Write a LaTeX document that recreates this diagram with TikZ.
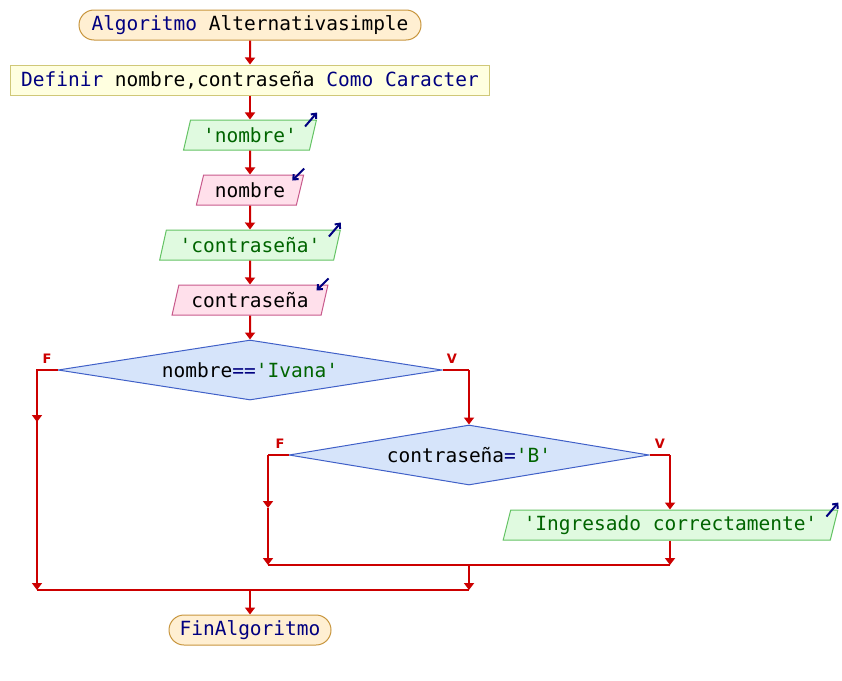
\documentclass[tikz,border=0pt]{standalone}
\usepackage{fontspec}
\setmonofont{DejaVu Sans Mono}
\setsansfont{DejaVu Sans}
\usetikzlibrary{shapes.geometric,shapes.misc,arrows.meta,calc}
\definecolor{kw}{RGB}{0,0,128}
\definecolor{strc}{RGB}{0,100,0}
\definecolor{flow}{RGB}{204,0,0}
\definecolor{termfill}{RGB}{255,239,210}
\definecolor{termdraw}{RGB}{200,150,62}
\definecolor{deffill}{RGB}{255,255,224}
\definecolor{defdraw}{RGB}{208,200,120}
\definecolor{outfill}{RGB}{224,250,224}
\definecolor{outdraw}{RGB}{100,195,100}
\definecolor{infill}{RGB}{255,224,235}
\definecolor{indraw}{RGB}{200,90,140}
\definecolor{decfill}{RGB}{214,228,250}
\definecolor{decdraw}{RGB}{64,96,200}
\tikzset{
  base/.style={font=\ttfamily\fontsize{19.5}{22}\selectfont, inner sep=0pt, minimum height=30pt, line width=1pt},
  term/.style={base, rounded rectangle, fill=termfill, draw=termdraw},
  defbox/.style={base, rectangle, fill=deffill, draw=defdraw},
  para/.style={base, trapezium, trapezium left angle=70, trapezium right angle=110, trapezium stretches=true},
  outbox/.style={para, fill=outfill, draw=outdraw},
  inbox/.style={para, fill=infill, draw=indraw},
  decbox/.style={base, diamond, aspect=6.4, fill=decfill, draw=decdraw, minimum height=60pt},
  conn/.style={draw=flow, line width=2pt, -{Triangle[width=10pt,length=7pt]}},
  plain/.style={draw=flow, line width=2pt},
  ioarrow/.style={draw=kw, line width=2pt, -{Straight Barb[length=4pt,width=7pt]}},
  tflab/.style={font=\sffamily\bfseries\fontsize{13}{14}\selectfont, text=flow, inner sep=0pt}
}
\begin{document}
\begin{tikzpicture}[x=1pt,y=-1pt]
\useasboundingbox (0,0) rectangle (842,680);
\fill[white] (0,0) rectangle (842,680);

\node[term, minimum width=342pt] (start) at (250,25) {\textcolor{kw}{Algoritmo} Alternativasimple};
\node[defbox, minimum width=479pt] (def) at (250,80) {\textcolor{kw}{Definir} nombre,contraseña \textcolor{kw}{Como} \textcolor{kw}{Caracter}};
\node[outbox, minimum width=133pt] (o1) at (250,135) {\textcolor{strc}{'nombre'}};
\node[inbox, minimum width=108pt] (i1) at (250,190) {nombre};
\node[outbox, minimum width=181pt] (o2) at (250,245) {\textcolor{strc}{'contraseña'}};
\node[inbox, minimum width=156pt] (i2) at (250,300) {contraseña};
\node[decbox, minimum width=384pt] (d1) at (250,370) {nombre\textcolor{kw}{==}\textcolor{strc}{'Ivana'}};
\node[decbox, minimum width=360pt, aspect=6] (d2) at (469,455) {contraseña\textcolor{kw}{=}\textcolor{strc}{'B'}};
\node[outbox, minimum width=335pt] (o3) at (670.5,525) {\textcolor{strc}{'Ingresado correctamente'}};
\node[term, minimum width=162pt] (fin) at (250,630) {\textcolor{kw}{FinAlgoritmo}};

\node[tflab] (f1) at (47,359) {F};
\node[tflab] (v1) at (452,359) {V};
\node[tflab] (f2) at (280,444) {F};
\node[tflab] (v2) at (660,444) {V};

\coordinate (l1a) at (37,370);
\coordinate (l1b) at (37,422);
\coordinate (l1c) at (37,590);
\coordinate (r1a) at (469,370);
\coordinate (l2a) at (268,455);
\coordinate (l2b) at (268,508);
\coordinate (l2c) at (268,565);
\coordinate (r2a) at (670,455);
\coordinate (r2c) at (670,565);
\coordinate (m2a) at (469,565);
\coordinate (m2b) at (469,590);
\coordinate (m1) at (250,590);

\draw[conn] (start) -- (def);
\draw[conn] (def) -- (o1);
\draw[conn] (o1) -- (i1);
\draw[conn] (i1) -- (o2);
\draw[conn] (o2) -- (i2);
\draw[conn] (i2) -- (d1);

\draw[plain] (d1.west) -- (l1a) -- (l1b);
\draw[conn] (l1a) -- (l1b);
\draw[conn] (l1b) -- (l1c);
\draw[plain] (d1.east) -- (r1a);
\draw[conn] (r1a) -- (d2.north);

\draw[plain] (d2.west) -- (l2a);
\draw[conn] (l2a) -- (l2b);
\draw[conn] (l2b) -- (l2c);
\draw[plain] (d2.east) -- (r2a);
\draw[conn] (r2a) -- (o3.north -| r2a);
\draw[conn] (o3.south -| r2c) -- (r2c);
\draw[plain] (l2c) -- (r2c);
\draw[conn] (m2a) -- (m2b);
\draw[plain] (l1c) -- (m2b);
\draw[conn] (m1) -- (fin);

\draw[ioarrow] ($(o1.top right corner)+(-12,7)$) -- ($(o1.top right corner)+(0,-7)$);
\draw[ioarrow] ($(i1.top right corner)+(0,-6)$) -- ($(i1.top right corner)+(-12,6)$);
\draw[ioarrow] ($(o2.top right corner)+(-12,7)$) -- ($(o2.top right corner)+(0,-7)$);
\draw[ioarrow] ($(i2.top right corner)+(0,-6)$) -- ($(i2.top right corner)+(-12,6)$);
\draw[ioarrow] ($(o3.top right corner)+(-12,7)$) -- ($(o3.top right corner)+(0,-7)$);
\end{tikzpicture}
\end{document}
